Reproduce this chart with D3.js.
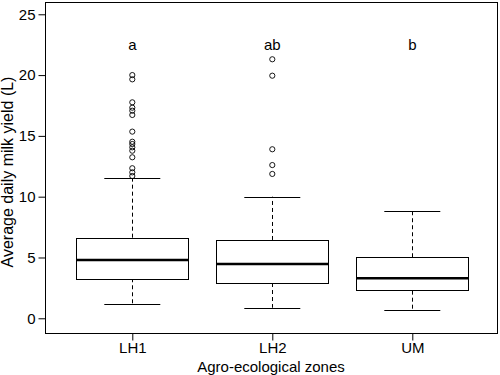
<!DOCTYPE html>
<html>
<head>
<meta charset="utf-8">
<script src="https://cdn.jsdelivr.net/npm/d3@7"></script>
<style>
  html, body { margin: 0; padding: 0; background: #fff; }
  svg { display: block; }
  text { font-family: "Liberation Sans", Arial, Helvetica, sans-serif; fill: #000; }
</style>
</head>
<body>
<svg id="chart" width="500" height="375"></svg>
<script>
const categories = ["LH1", "LH2", "UM"];
const lowerWhisker = [1.18, 0.87, 0.68];
const q1 = [3.29, 2.90, 2.27];
const median = [4.79, 4.47, 3.29];
const q3 = [6.63, 6.44, 5.02];
const upperWhisker = [11.54, 10.0, 8.8];
const outliersLH1 = [20.0, 19.65, 17.76, 17.32, 17.07, 16.72, 15.35, 14.52, 14.33, 14.06, 13.78, 13.24, 12.34, 12.0, 11.7];
const outliersLH2 = [21.3, 19.95, 13.9, 12.6, 11.87];
const outliersUM = [];
const letters = ["a", "ab", "b"];
const letterLevel = 22.1;
const yTicks = [0, 5, 10, 15, 20, 25];
const xTitle = "Agro-ecological zones";
const yTitle = "Average daily milk yield (L)";

const outliers = [outliersLH1, outliersLH2, outliersUM];

const plot = { left: 45, right: 497, top: 2, bottom: 333 };
const svg = d3.select("#chart");
const FS = 15;

const y = d3.scaleLinear().domain([-1.21, 26.01]).range([plot.bottom, plot.top]);
const x = d3.scalePoint().domain(categories).range([132.3, 412.3]);
const step = x.step();
const boxW = step * 0.8;
const capW = boxW / 2;

const crisp = v => Math.round(v) + 0.5;

// frame
svg.append("rect")
  .attr("x", crisp(plot.left)).attr("y", crisp(plot.top))
  .attr("width", Math.round(plot.right - plot.left)).attr("height", Math.round(plot.bottom - plot.top))
  .attr("fill", "none").attr("stroke", "#000").attr("stroke-width", 1);

// y axis
const yAxis = d3.axisLeft(y).tickValues(yTicks).tickSize(7).tickPadding(3).tickFormat(d3.format("d"));
const gy = svg.append("g").attr("transform", `translate(${crisp(plot.left)},0)`).call(yAxis);
gy.select(".domain").remove();
gy.selectAll(".tick line").attr("stroke", "#000");
gy.selectAll(".tick text").attr("font-size", FS).attr("font-family", "Liberation Sans, Arial, sans-serif");

// x axis
const xAxis = d3.axisBottom(x).tickSize(7).tickPadding(2);
const gx = svg.append("g").attr("transform", `translate(0,${crisp(plot.bottom)})`).call(xAxis);
gx.select(".domain").remove();
gx.selectAll(".tick line").attr("stroke", "#000");
gx.selectAll(".tick text").attr("font-size", FS).attr("font-family", "Liberation Sans, Arial, sans-serif");

// titles
svg.append("text").attr("x", (plot.left + plot.right) / 2).attr("y", 372)
  .attr("text-anchor", "middle").attr("font-size", FS).text(xTitle);
svg.append("text").attr("transform", `translate(13,172) rotate(-90)`)
  .attr("text-anchor", "middle").attr("font-size", 16).text(yTitle);

// boxes
const g = svg.append("g");
categories.forEach((c, i) => {
  const cx = x(c);
  g.append("line").attr("x1", crisp(cx)).attr("x2", crisp(cx))
    .attr("y1", y(q3[i])).attr("y2", y(upperWhisker[i]))
    .attr("stroke", "#000").attr("stroke-dasharray", "4,3");
  g.append("line").attr("x1", crisp(cx)).attr("x2", crisp(cx))
    .attr("y1", y(q1[i])).attr("y2", y(lowerWhisker[i]))
    .attr("stroke", "#000").attr("stroke-dasharray", "4,3");
  [upperWhisker[i], lowerWhisker[i]].forEach(v => {
    g.append("line").attr("x1", cx - capW / 2).attr("x2", cx + capW / 2)
      .attr("y1", crisp(y(v))).attr("y2", crisp(y(v))).attr("stroke", "#000");
  });
  g.append("rect").attr("x", crisp(cx - boxW / 2)).attr("y", crisp(y(q3[i])))
    .attr("width", Math.round(boxW)).attr("height", Math.round(y(q1[i]) - y(q3[i])))
    .attr("fill", "#fff").attr("stroke", "#000");
  g.append("line").attr("x1", cx - boxW / 2).attr("x2", cx + boxW / 2)
    .attr("y1", y(median[i])).attr("y2", y(median[i]))
    .attr("stroke", "#000").attr("stroke-width", 2.5);
  outliers[i].forEach(v => {
    g.append("circle").attr("cx", cx).attr("cy", y(v)).attr("r", 2.6)
      .attr("fill", "none").attr("stroke", "#000").attr("stroke-width", 0.9);
  });
  svg.append("text").attr("x", cx).attr("y", y(letterLevel))
    .attr("text-anchor", "middle").attr("font-size", FS).text(letters[i]);
});
</script>
</body>
</html>
